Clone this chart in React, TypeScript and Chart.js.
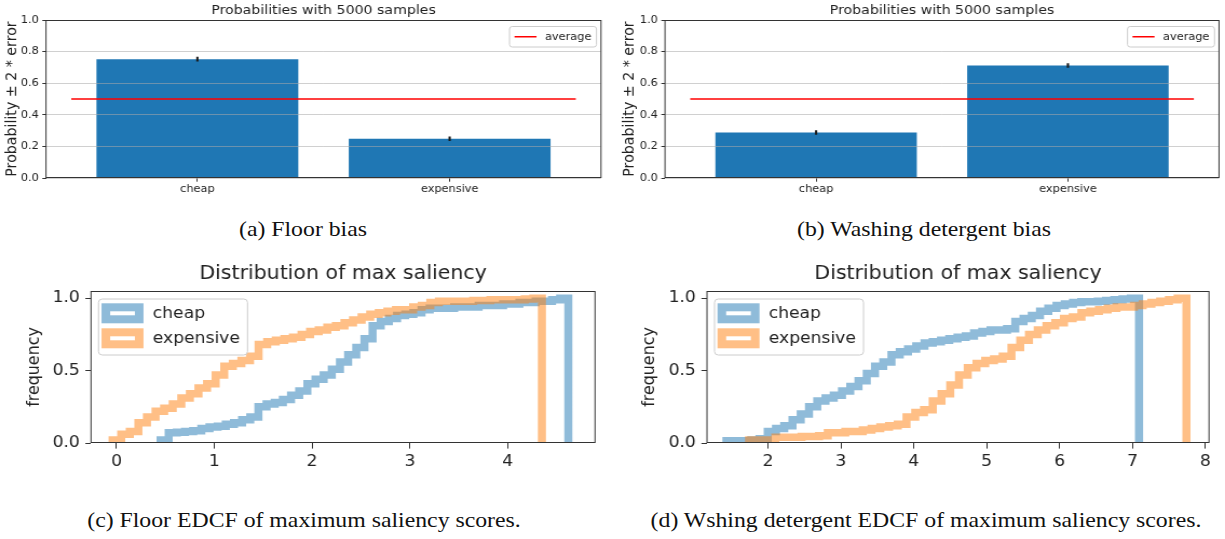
import React, { useEffect, useRef } from 'react';
import { Chart, registerables } from 'chart.js';

Chart.register(...registerables);

// ---------------- data ----------------
const categories = ['cheap', 'expensive'];
const floorProbability = [0.752, 0.248];
const floorError = [0.013, 0.012];
const detergentProbability = [0.288, 0.712];
const detergentError = [0.012, 0.012];
const averageProbability = 0.5;
const averageSpan = [-0.5, 1.5];
const probabilityTicks = [0, 0.2, 0.4, 0.6, 0.8, 1.0];

// cumulative step histograms (50 bins each): [first edge, last edge] and bin heights
const floorCheapRange = [0.45, 4.62];
const floorCheapCdf = [
  0.02, 0.07, 0.075, 0.08, 0.085, 0.10, 0.11, 0.115, 0.13, 0.14,
  0.16, 0.18, 0.25, 0.27, 0.28, 0.30, 0.33, 0.36, 0.41, 0.44,
  0.47, 0.51, 0.56, 0.61, 0.66, 0.72, 0.81, 0.84, 0.86, 0.88,
  0.89, 0.90, 0.92, 0.93, 0.93, 0.93, 0.94, 0.94, 0.94, 0.95,
  0.95, 0.95, 0.96, 0.96, 0.97, 0.97, 0.98, 0.98, 0.99, 1.0,
];
const floorExpensiveRange = [-0.04, 4.35];
const floorExpensiveCdf = [
  0.02, 0.06, 0.08, 0.14, 0.18, 0.22, 0.24, 0.27, 0.31, 0.34,
  0.38, 0.41, 0.47, 0.53, 0.55, 0.57, 0.60, 0.68, 0.70, 0.71,
  0.72, 0.73, 0.75, 0.77, 0.78, 0.80, 0.81, 0.83, 0.85, 0.87,
  0.89, 0.90, 0.91, 0.92, 0.92, 0.94, 0.95, 0.97, 0.98, 0.98,
  0.98, 0.98, 0.985, 0.985, 0.99, 0.99, 0.99, 0.99, 0.995, 1.0,
];
const detergentCheapRange = [1.43, 7.09];
const detergentCheapCdf = [
  0.015, 0.015, 0.015, 0.02, 0.03, 0.08, 0.10, 0.12, 0.16, 0.20,
  0.25, 0.29, 0.31, 0.33, 0.36, 0.39, 0.43, 0.48, 0.53, 0.56,
  0.61, 0.63, 0.65, 0.67, 0.69, 0.70, 0.71, 0.72, 0.73, 0.74,
  0.76, 0.77, 0.78, 0.78, 0.79, 0.84, 0.86, 0.88, 0.91, 0.93,
  0.95, 0.96, 0.97, 0.975, 0.975, 0.98, 0.985, 0.99, 0.995, 1.0,
];
const detergentExpensiveRange = [1.74, 7.74];
const detergentExpensiveCdf = [
  0.02, 0.02, 0.02, 0.04, 0.04, 0.04, 0.045, 0.045, 0.05, 0.07,
  0.07, 0.08, 0.08, 0.09, 0.10, 0.11, 0.12, 0.13, 0.18, 0.21,
  0.23, 0.29, 0.34, 0.40, 0.47, 0.52, 0.55, 0.57, 0.58, 0.60,
  0.66, 0.71, 0.75, 0.78, 0.81, 0.83, 0.86, 0.87, 0.90, 0.91,
  0.92, 0.93, 0.94, 0.94, 0.95, 0.96, 0.97, 0.98, 0.99, 1.0,
];
const frequencyTicks = [0, 0.5, 1.0];
const floorSaliencyTicks = [0, 1, 2, 3, 4];
const detergentSaliencyTicks = [2, 3, 4, 5, 6, 7, 8];

const captions = [
  { text: '(a) Floor bias', cx: 303, cy: 229 },
  { text: '(b) Washing detergent bias', cx: 924, cy: 229 },
  { text: '(c) Floor EDCF of maximum saliency scores.', cx: 303.5, cy: 520 },
  { text: '(d) Wshing detergent EDCF of maximum saliency scores.', cx: 925.5, cy: 520 },
];

// ---------------- style ----------------
const STRETCH = 1.08;
const FONT = '"DejaVu Sans", sans-serif';
const TEXT = '#222222';
const AXIS = '#333333';
const BAR_BLUE = '#1f77b4';
const BLUE_A = 'rgba(31,119,180,0.5)';
const ORANGE_A = 'rgba(255,127,14,0.5)';

Chart.defaults.font.family = FONT;
Chart.defaults.color = TEXT;

type Geom = { x: number; y: number; w: number; h: number; l: number; r: number; t: number; b: number; titleY: number; ylabelX: number };

const GEOM_A: Geom = { x: 0, y: 0, w: 612, h: 200, l: 46, r: 601, t: 20, b: 178, titleY: 11, ylabelX: 12 };
const GEOM_B: Geom = { x: 612, y: 0, w: 613, h: 200, l: 665, r: 1219, t: 20, b: 178, titleY: 11, ylabelX: 630 };
const GEOM_C: Geom = { x: 0, y: 250, w: 612, h: 232, l: 91, r: 595, t: 291, b: 443, titleY: 274, ylabelX: 34 };
const GEOM_D: Geom = { x: 612, y: 250, w: 613, h: 232, l: 707, r: 1209, t: 291, b: 443, titleY: 274, ylabelX: 650 };

function stepOutline(range: number[], cdf: number[]) {
  const [lo, hi] = range;
  const n = cdf.length;
  const edge = (i: number) => lo + ((hi - lo) * i) / n;
  const pts: { x: number; y: number }[] = [{ x: lo, y: 0 }];
  cdf.forEach((v, i) => {
    pts.push({ x: edge(i), y: v });
    pts.push({ x: edge(i + 1), y: v });
  });
  pts.push({ x: hi, y: 0 });
  return pts;
}

function rrect(ctx: CanvasRenderingContext2D, x: number, y: number, w: number, h: number, r: number) {
  ctx.beginPath();
  ctx.moveTo(x + r, y);
  ctx.lineTo(x + w - r, y);
  ctx.quadraticCurveTo(x + w, y, x + w, y + r);
  ctx.lineTo(x + w, y + h - r);
  ctx.quadraticCurveTo(x + w, y + h, x + w - r, y + h);
  ctx.lineTo(x + r, y + h);
  ctx.quadraticCurveTo(x, y + h, x, y + h - r);
  ctx.lineTo(x, y + r);
  ctx.quadraticCurveTo(x, y, x + r, y);
  ctx.closePath();
}

const framePlugin = {
  id: 'frame',
  afterDraw(chart: any) {
    const { ctx, chartArea: a } = chart;
    ctx.save();
    ctx.strokeStyle = AXIS;
    ctx.lineWidth = 1;
    const top = Math.round(a.top) + 0.5;
    const bottom = Math.round(a.bottom) - 0.5;
    ctx.strokeRect(a.left, top, a.right - a.left, bottom - top);
    ctx.restore();
  },
};

function averageLegend(s: number) {
  return {
    id: 'avgLegend',
    afterDraw(chart: any) {
      const { ctx, chartArea: a } = chart;
      const ds = chart.data.datasets.find((d: any) => d.type === 'line');
      const w = 87 / s;
      const h = 20.5;
      const x = a.right - 4.5 / s - w;
      const y = a.top + 6.5;
      ctx.save();
      rrect(ctx, x, y, w, h, 2.5);
      ctx.fillStyle = 'rgba(255,255,255,0.8)';
      ctx.fill();
      ctx.strokeStyle = '#cccccc';
      ctx.lineWidth = 1;
      ctx.stroke();
      ctx.strokeStyle = ds.borderColor;
      ctx.lineWidth = 1.5;
      ctx.beginPath();
      ctx.moveTo(x + 5 / s, y + h / 2);
      ctx.lineTo(x + 27 / s, y + h / 2);
      ctx.stroke();
      ctx.fillStyle = TEXT;
      ctx.font = `10.5px ${FONT}`;
      ctx.textBaseline = 'middle';
      ctx.textAlign = 'left';
      ctx.fillText(ds.label, x + 35.5 / s, y + h / 2 + 0.5);
      ctx.restore();
    },
  };
}

function histLegend(s: number) {
  return {
    id: 'histLegend',
    afterDraw(chart: any) {
      const { ctx, chartArea: a } = chart;
      const w = 149 / s;
      const h = 56;
      const x = a.left + 7.5 / s;
      const y = a.top + 8;
      ctx.save();
      rrect(ctx, x, y, w, h, 3.5);
      ctx.fillStyle = 'rgba(255,255,255,0.8)';
      ctx.fill();
      ctx.strokeStyle = '#cccccc';
      ctx.lineWidth = 1;
      ctx.stroke();
      chart.data.datasets.forEach((ds: any, i: number) => {
        const cy = y + 14.3 + i * 25;
        const lw = 8;
        const pl = x + 3 / s + lw / 2;
        const pr = x + 45 / s - lw / 2;
        ctx.strokeStyle = ds.borderColor;
        ctx.lineWidth = lw;
        ctx.lineJoin = 'miter';
        ctx.strokeRect(pl, cy - 6, pr - pl, 12);
        ctx.fillStyle = TEXT;
        ctx.font = `15.9px ${FONT}`;
        ctx.textBaseline = 'middle';
        ctx.textAlign = 'left';
        ctx.fillText(ds.label, x + 54.3 / s, cy + 0.5);
      });
      ctx.restore();
    },
  };
}

function layoutParts(g: Geom, s: number, titleSize: number, ylabelSize: number) {
  const yW = (g.l - g.x) / s;
  const padR = (g.x + g.w - g.r) / s;
  const xH = g.y + g.h - g.b;
  const tLH = titleSize * 1.2;
  const tPadTop = g.titleY - g.y - tLH / 2;
  const tPadBottom = g.t - g.y - tPadTop - tLH;
  const yLH = ylabelSize * 1.2;
  const yTitlePad = (g.ylabelX - g.x) / s - yLH / 2;
  return { yW, padR, xH, tPadTop, tPadBottom, yTitlePad };
}

function barConfig(values: number[], errors: number[]) {
  return (g: Geom, s: number) => {
    const L = layoutParts(g, s, 13.1, 14.2);
    return {
      type: 'bar',
      data: {
        datasets: [
          {
            type: 'line',
            label: 'average',
            data: averageSpan.map((x) => ({ x, y: averageProbability })),
            borderColor: '#ff0000',
            borderWidth: 1.5,
            pointRadius: 0,
            fill: false,
            order: 0,
          },
          {
            type: 'bar',
            label: 'error',
            data: values.map((v, i) => ({ x: i, y: [v - errors[i], v + errors[i]] })),
            backgroundColor: '#1a1a1a',
            grouped: false,
            barThickness: 1.4,
            maxBarThickness: 1.4,
            order: 1,
          },
          {
            type: 'bar',
            label: 'probability',
            data: values.map((v, i) => ({ x: i, y: v })),
            backgroundColor: BAR_BLUE,
            grouped: false,
            categoryPercentage: 1,
            barPercentage: 0.8,
            order: 2,
          },
        ],
      },
      options: {
        responsive: false,
        animation: false,
        devicePixelRatio: 1,
        events: [],
        layout: { padding: { left: 0, top: 0, right: L.padR, bottom: 0 } },
        plugins: {
          legend: { display: false },
          tooltip: { enabled: false },
          title: {
            display: true,
            fullSize: false,
            text: 'Probabilities with 5000 samples',
            color: TEXT,
            font: { size: 13.1, weight: 'normal' },
            padding: { top: L.tPadTop, bottom: L.tPadBottom },
          },
        },
        scales: {
          x: {
            type: 'linear',
            min: -0.6,
            max: 1.6,
            offset: false,
            afterBuildTicks: (ax: any) => {
              ax.ticks = categories.map((_, i) => ({ value: i }));
            },
            afterFit: (sc: any) => {
              sc.height = L.xH;
            },
            grid: { offset: false, drawOnChartArea: false, drawTicks: true, tickLength: 3.7, tickColor: AXIS, tickWidth: 1 },
            border: { display: false },
            ticks: {
              callback: (v: any) => categories[Math.round(Number(v))] ?? '',
              font: { size: 10.5 },
              color: TEXT,
              padding: 1.5,
              maxRotation: 0,
              autoSkip: false,
            },
          },
          y: {
            type: 'linear',
            min: 0,
            max: 1,
            afterBuildTicks: (ax: any) => {
              ax.ticks = probabilityTicks.map((v) => ({ value: v }));
            },
            afterFit: (sc: any) => {
              sc.width = L.yW;
            },
            grid: { color: 'rgba(170,170,170,0.55)', lineWidth: 1, z: 1, drawTicks: true, tickLength: 3.7 / s, tickColor: AXIS },
            border: { display: false },
            ticks: {
              callback: (v: any) => Number(v).toFixed(1),
              font: { size: 10.5 },
              color: TEXT,
              padding: 3.5 / s,
            },
            title: {
              display: true,
              text: 'Probability ± 2 * error',
              color: TEXT,
              font: { size: 14.2 },
              padding: { top: L.yTitlePad, bottom: 0 },
            },
          },
        },
      },
      plugins: [framePlugin, averageLegend(s)],
    };
  };
}

function histConfig(
  cheapRange: number[],
  cheapCdf: number[],
  expRange: number[],
  expCdf: number[],
  xMin: number,
  xMax: number,
  xTicks: number[],
) {
  return (g: Geom, s: number) => {
    const L = layoutParts(g, s, 19, 15.9);
    const common = {
      type: 'line',
      borderWidth: 7.5,
      pointRadius: 0,
      fill: false,
      clip: 0,
      tension: 0,
      borderJoinStyle: 'miter',
      borderCapStyle: 'butt',
    };
    return {
      type: 'line',
      data: {
        datasets: [
          { ...common, label: 'cheap', data: stepOutline(cheapRange, cheapCdf), borderColor: BLUE_A, order: 1 },
          { ...common, label: 'expensive', data: stepOutline(expRange, expCdf), borderColor: ORANGE_A, order: 0 },
        ],
      },
      options: {
        responsive: false,
        animation: false,
        devicePixelRatio: 1,
        events: [],
        layout: { padding: { left: 0, top: 0, right: L.padR, bottom: 0 } },
        plugins: {
          legend: { display: false },
          tooltip: { enabled: false },
          title: {
            display: true,
            fullSize: false,
            text: 'Distribution of max saliency',
            color: TEXT,
            font: { size: 19, weight: 'normal' },
            padding: { top: L.tPadTop, bottom: L.tPadBottom },
          },
        },
        scales: {
          x: {
            type: 'linear',
            min: xMin,
            max: xMax,
            offset: false,
            afterBuildTicks: (ax: any) => {
              ax.ticks = xTicks.map((v) => ({ value: v }));
            },
            afterFit: (sc: any) => {
              sc.height = L.xH;
            },
            grid: { drawOnChartArea: false, drawTicks: true, tickLength: 5.6, tickColor: AXIS, tickWidth: 1 },
            border: { display: false },
            ticks: {
              callback: (v: any) => String(v),
              font: { size: 15.9 },
              color: TEXT,
              padding: 3.5,
              maxRotation: 0,
              autoSkip: false,
            },
          },
          y: {
            type: 'linear',
            min: 0,
            max: 1.05,
            afterBuildTicks: (ax: any) => {
              ax.ticks = frequencyTicks.map((v) => ({ value: v }));
            },
            afterFit: (sc: any) => {
              sc.width = L.yW;
            },
            grid: { drawOnChartArea: false, drawTicks: true, tickLength: 5.6 / s, tickColor: AXIS, tickWidth: 1 },
            border: { display: false },
            ticks: {
              callback: (v: any) => Number(v).toFixed(1),
              font: { size: 15.9 },
              color: TEXT,
              padding: 5.6 / s,
            },
            title: {
              display: true,
              text: 'frequency',
              color: TEXT,
              font: { size: 15.9 },
              padding: { top: L.yTitlePad, bottom: 0 },
            },
          },
        },
      },
      plugins: [framePlugin, histLegend(s)],
    };
  };
}

function Panel({ geom, build }: { geom: Geom; build: (g: Geom, s: number) => any }) {
  const ref = useRef<HTMLCanvasElement>(null);
  const iw = Math.round(geom.w / STRETCH);
  useEffect(() => {
    const s = geom.w / iw;
    const chart = new Chart(ref.current as HTMLCanvasElement, build(geom, s));
    return () => chart.destroy();
  }, []);
  return (
    <canvas
      ref={ref}
      width={iw}
      height={geom.h}
      style={{ position: 'absolute', left: geom.x, top: geom.y, width: geom.w, height: geom.h }}
    />
  );
}

export default function App() {
  return (
    <div
      style={{
        position: 'absolute',
        left: 0,
        top: 0,
        width: 1225,
        height: 539,
        background: '#ffffff',
        overflow: 'hidden',
      }}
    >
      <Panel geom={GEOM_A} build={barConfig(floorProbability, floorError)} />
      <Panel geom={GEOM_B} build={barConfig(detergentProbability, detergentError)} />
      <Panel
        geom={GEOM_C}
        build={histConfig(floorCheapRange, floorCheapCdf, floorExpensiveRange, floorExpensiveCdf, -0.261, 4.893, floorSaliencyTicks)}
      />
      <Panel
        geom={GEOM_D}
        build={histConfig(detergentCheapRange, detergentCheapCdf, detergentExpensiveRange, detergentExpensiveCdf, 1.163, 8.05, detergentSaliencyTicks)}
      />
      {captions.map((c) => (
        <div
          key={c.text}
          style={{
            position: 'absolute',
            left: c.cx - 350,
            top: c.cy - 13,
            width: 700,
            height: 26,
            lineHeight: '26px',
            textAlign: 'center',
            fontFamily: '"Liberation Serif", "Times New Roman", serif',
            fontSize: 22,
            color: '#111',
            transform: `scaleX(${STRETCH})`,
            transformOrigin: 'center',
            whiteSpace: 'nowrap',
          }}
        >
          {c.text}
        </div>
      ))}
    </div>
  );
}
